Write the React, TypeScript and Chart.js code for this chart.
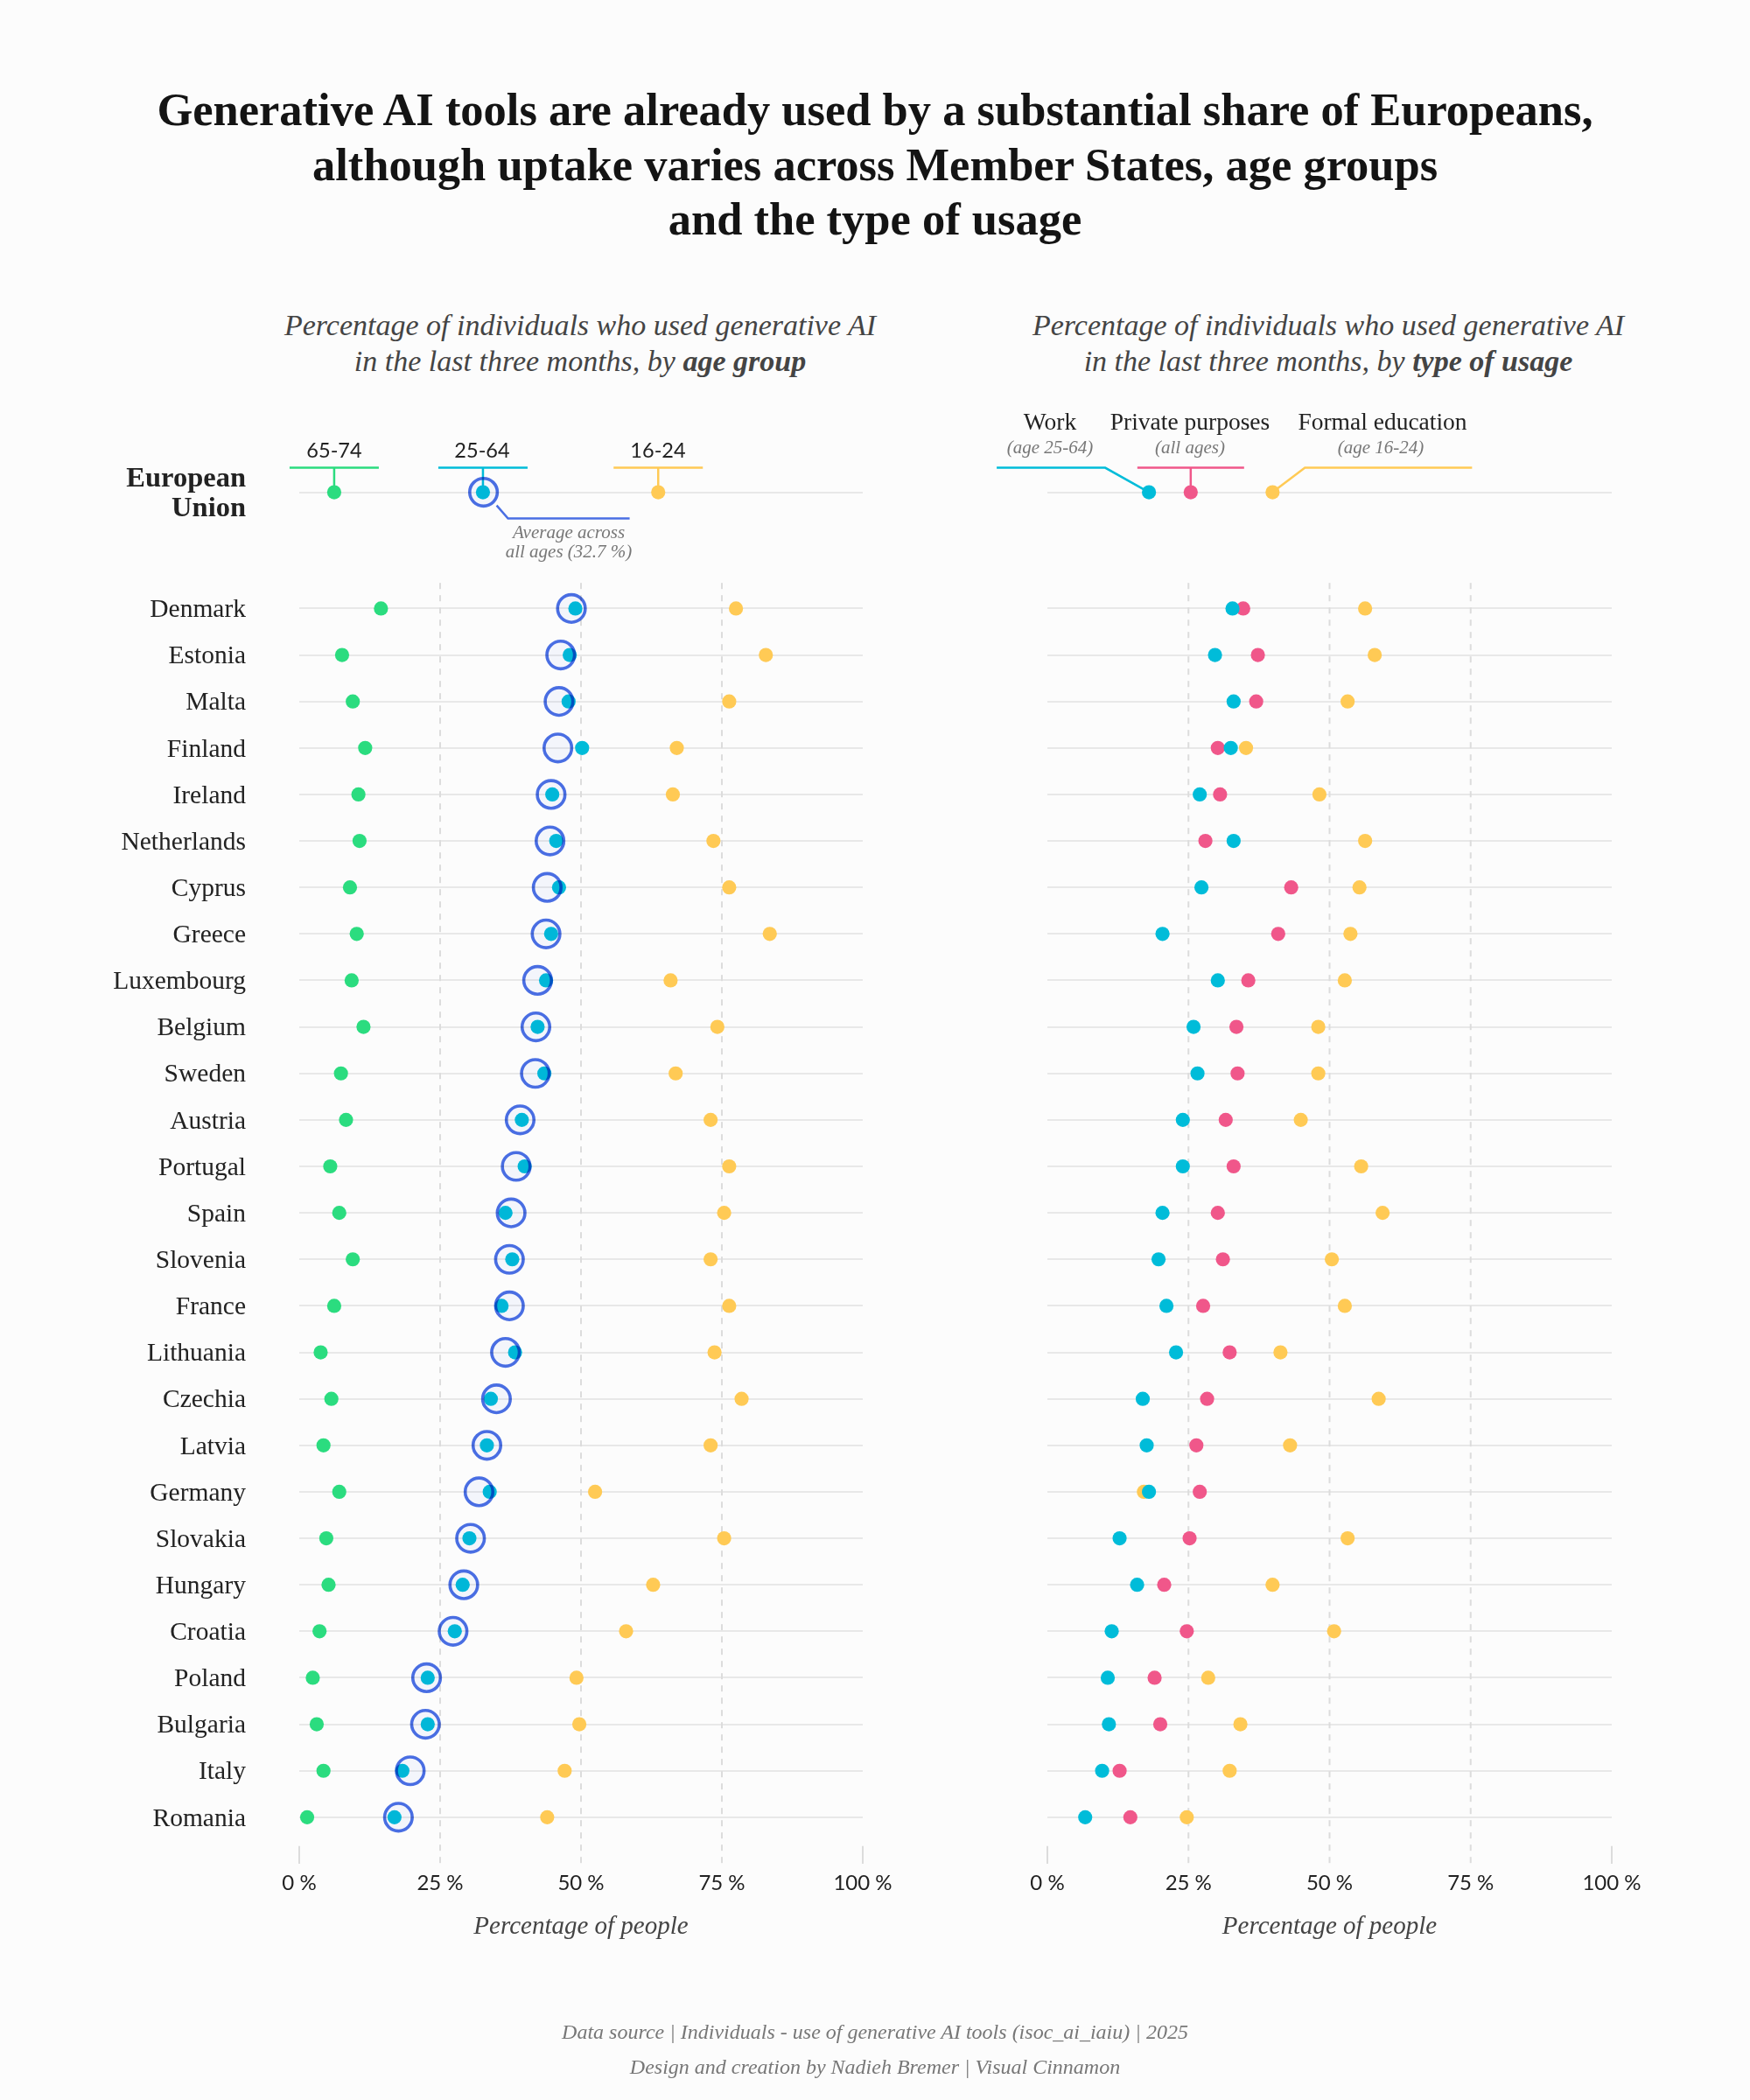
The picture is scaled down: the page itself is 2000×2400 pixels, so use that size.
import { useEffect, useRef } from 'react';
import { Chart, registerables } from 'chart.js';

Chart.register(...registerables);

// First entry of every list is the EU row
const rowLabels = ['European Union', 'Denmark', 'Estonia', 'Malta', 'Finland', 'Ireland', 'Netherlands', 'Cyprus', 'Greece', 'Luxembourg', 'Belgium', 'Sweden', 'Austria', 'Portugal', 'Spain', 'Slovenia', 'France', 'Lithuania', 'Czechia', 'Latvia', 'Germany', 'Slovakia', 'Hungary', 'Croatia', 'Poland', 'Bulgaria', 'Italy', 'Romania'];
const age6574 = [6.2, 14.5, 7.6, 9.5, 11.7, 10.5, 10.7, 9, 10.2, 9.3, 11.4, 7.4, 8.3, 5.5, 7.1, 9.5, 6.2, 3.8, 5.7, 4.3, 7.1, 4.8, 5.2, 3.6, 2.4, 3.1, 4.3, 1.4];
const age2564 = [32.6, 49, 48, 47.8, 50.2, 44.9, 45.6, 46.1, 44.7, 43.8, 42.3, 43.5, 39.5, 40, 36.6, 37.8, 35.9, 38.3, 34, 33.3, 33.8, 30.2, 29, 27.6, 22.8, 22.8, 18.3, 16.9];
const age1624 = [63.7, 77.5, 82.8, 76.3, 67, 66.3, 73.5, 76.3, 83.5, 65.9, 74.2, 66.8, 73, 76.3, 75.4, 73, 76.3, 73.7, 78.5, 73, 52.5, 75.4, 62.8, 58, 49.2, 49.7, 47.1, 44];
const allAges = [32.7, 48.3, 46.4, 46.1, 45.9, 44.7, 44.5, 44, 43.8, 42.3, 42, 41.9, 39.2, 38.5, 37.6, 37.3, 37.3, 36.6, 35, 33.3, 31.9, 30.4, 29.2, 27.3, 22.6, 22.4, 19.7, 17.6];
const useWork = [18, 32.8, 29.7, 33, 32.5, 27, 33, 27.3, 20.4, 30.2, 25.9, 26.6, 24, 24, 20.4, 19.7, 21.1, 22.8, 16.9, 17.6, 18, 12.8, 15.9, 11.4, 10.7, 10.9, 9.7, 6.7];
const usePrivate = [25.4, 34.7, 37.3, 37, 30.2, 30.6, 28, 43.2, 40.9, 35.6, 33.5, 33.7, 31.6, 33, 30.2, 31.1, 27.6, 32.3, 28.3, 26.4, 27, 25.2, 20.7, 24.7, 19, 20, 12.8, 14.7];
const useEducation = [39.9, 56.3, 58, 53.2, 35.2, 48.2, 56.3, 55.3, 53.7, 52.7, 48, 48, 44.9, 55.6, 59.4, 50.4, 52.7, 41.3, 58.7, 43, 17.1, 53.2, 39.9, 50.8, 28.5, 34.2, 32.3, 24.7];
const xTicks = [0, 25, 50, 75, 100];

const EU_ROW = -2.5;
const rowPositions = rowLabels.map((_, i) => (i === 0 ? EU_ROW : i - 1));

const GREEN = '#2bdc7f';
const TEAL = '#00bcd9';
const YELLOW = '#ffca55';
const PINK = '#f0578a';
const BLUE = '#4a6fe3';
const BG = '#fcfcfc';
const SERIF = '"Liberation Serif", serif';
const SANS = 'Lato, sans-serif';

const toPoints = (values: number[]) => values.map((v, i) => ({ x: v, y: rowPositions[i] }));

const dots = (label: string, values: number[], color: string) => ({
  label,
  data: toPoints(values),
  backgroundColor: color,
  borderWidth: 0,
  pointRadius: 8.1,
  clip: false as const,
});

function line(ctx: CanvasRenderingContext2D, color: string, pts: number[][]) {
  ctx.strokeStyle = color;
  ctx.lineWidth = 2.5;
  ctx.beginPath();
  pts.forEach(([x, y], i) => (i ? ctx.lineTo(x, y) : ctx.moveTo(x, y)));
  ctx.stroke();
}

function drawAgeLeaders(ctx: CanvasRenderingContext2D, px: (v: number) => number, y: number) {
  const bar = y - 28;
  [[age6574[0], GREEN], [age2564[0], TEAL], [age1624[0], YELLOW]].forEach(([v, color]) => {
    const x = px(v as number);
    line(ctx, color as string, [[x - 51, bar], [x + 51, bar]]);
    line(ctx, color as string, [[x, bar], [x, y]]);
  });
  const r = px(allAges[0]);
  line(ctx, BLUE, [[r + 15, y + 15], [r + 28, y + 30], [r + 167, y + 30]]);
}

function drawUsageLeaders(ctx: CanvasRenderingContext2D, px: (v: number) => number, y: number) {
  const bar = y - 28;
  const w = px(useWork[0]);
  line(ctx, TEAL, [[w - 174, bar], [w - 50, bar], [w, y]]);
  const p = px(usePrivate[0]);
  line(ctx, PINK, [[p - 61, bar], [p + 61, bar]]);
  line(ctx, PINK, [[p, bar], [p, y]]);
  const e = px(useEducation[0]);
  line(ctx, YELLOW, [[e, y], [e + 37, bar], [e + 228, bar]]);
}

type PanelProps = {
  left: number;
  width: number;
  axisWidth: number;
  paddingRight: number;
  showLabels: boolean;
  datasets: any[];
  leaders: (ctx: CanvasRenderingContext2D, px: (v: number) => number, y: number) => void;
};

function Panel({ left, width, axisWidth, paddingRight, showLabels, datasets, leaders }: PanelProps) {
  const canvasRef = useRef<HTMLCanvasElement>(null);

  useEffect(() => {
    if (!canvasRef.current) return;

    // dashed guides, axis end ticks and the leader lines of the EU row
    const decorations = {
      id: 'decorations',
      beforeDatasetsDraw(chart: any) {
        const { ctx, scales } = chart;
        const px = (v: number) => scales.x.getPixelForValue(v);
        const py = (v: number) => scales.y.getPixelForValue(v);
        ctx.save();
        ctx.lineWidth = 2;
        ctx.strokeStyle = '#dcdcdc';
        ctx.setLineDash([7, 7]);
        xTicks.slice(1, -1).forEach((v) => {
          ctx.beginPath();
          ctx.moveTo(px(v), py(-0.55));
          ctx.lineTo(px(v), py(27));
          ctx.stroke();
        });
        ctx.setLineDash([]);
        [xTicks[0], xTicks[xTicks.length - 1]].forEach((v) => {
          ctx.beginPath();
          ctx.moveTo(px(v), py(26.62));
          ctx.lineTo(px(v), py(27));
          ctx.stroke();
        });
        leaders(ctx, px, py(EU_ROW));
        ctx.restore();
      },
      // ring darkens the dot it overlaps
      beforeDatasetDraw(chart: any, args: any) {
        if (chart.data.datasets[args.index].label === 'All ages') {
          chart.ctx.save();
          chart.ctx.globalCompositeOperation = 'multiply';
        }
      },
      afterDatasetDraw(chart: any, args: any) {
        if (chart.data.datasets[args.index].label === 'All ages') chart.ctx.restore();
      },
    };

    const chart = new Chart(canvasRef.current, {
      type: 'scatter',
      data: { datasets },
      plugins: [decorations],
      options: {
        responsive: false,
        maintainAspectRatio: false,
        animation: false,
        layout: { padding: { top: 536, bottom: 170, right: paddingRight, left: 0 } },
        plugins: { legend: { display: false }, tooltip: { enabled: false } },
        scales: {
          x: {
            type: 'linear',
            min: 0,
            max: 100,
            afterBuildTicks: (scale: any) => {
              scale.ticks = xTicks.map((value) => ({ value }));
            },
            afterFit: (scale: any) => {
              scale.height = 100;
            },
            grid: { display: false },
            border: { display: false },
            ticks: {
              autoSkip: false,
              maxRotation: 0,
              padding: 0,
              color: '#222',
              font: { family: SANS, size: 24 },
              callback: (v: any) => `${v} %`,
            },
            title: {
              display: true,
              text: 'Percentage of people',
              color: '#444',
              padding: { top: 0, bottom: 10 },
              font: { family: SERIF, size: 29, style: 'italic' },
            },
          },
          y: {
            type: 'linear',
            reverse: true,
            min: -3,
            max: 27,
            afterBuildTicks: (scale: any) => {
              scale.ticks = rowPositions.map((value) => ({ value }));
            },
            afterFit: (scale: any) => {
              scale.width = axisWidth;
            },
            grid: { color: '#e8e8e8', lineWidth: 2, drawTicks: false },
            border: { display: false },
            ticks: {
              display: showLabels,
              autoSkip: false,
              padding: 61,
              labelOffset: 2,
              color: '#222',
              font: (ctx: any) =>
                ctx.tick && ctx.tick.value === EU_ROW
                  ? { family: SERIF, size: 32.5, weight: 'bold', lineHeight: 1.05 }
                  : { family: SERIF, size: 29.5 },
              callback: (v: any) => {
                const label = rowLabels[rowPositions.indexOf(v)];
                return v === EU_ROW ? label.split(' ') : label;
              },
            },
          },
        },
      },
    } as any);

    return () => {
      chart.destroy();
    };
  }, []);

  return (
    <canvas
      ref={canvasRef}
      width={width}
      height={2400}
      style={{ position: 'absolute', left, top: 0, width, height: 2400 }}
    />
  );
}

// chart.js paints the first dataset on top
const ageDatasets = [
  {
    label: 'All ages',
    data: toPoints(allAges),
    backgroundColor: 'rgba(74, 111, 227, 0.05)',
    borderColor: BLUE,
    borderWidth: 3.6,
    pointRadius: 15.8,
    clip: false,
  },
  dots('25-64', age2564, TEAL),
  dots('16-24', age1624, YELLOW),
  dots('65-74', age6574, GREEN),
];

const usageDatasets = [
  dots('Work', useWork, TEAL),
  dots('Private purposes', usePrivate, PINK),
  dots('Formal education', useEducation, YELLOW),
];

function Text({ x, y, style, children }: { x: number; y: number; style: React.CSSProperties; children: React.ReactNode }) {
  return (
    <div
      style={{
        position: 'absolute',
        left: x,
        top: y,
        transform: 'translate(-50%, -50%)',
        whiteSpace: 'nowrap',
        textAlign: 'center',
        ...style,
      }}
    >
      {children}
    </div>
  );
}

const titleStyle: React.CSSProperties = { fontFamily: SERIF, fontWeight: 700, fontSize: 52.5, color: '#141414' };
const subtitleStyle: React.CSSProperties = { fontFamily: SERIF, fontStyle: 'italic', fontSize: 34, color: '#444' };
const legendStyle: React.CSSProperties = { fontFamily: SANS, fontSize: 23.5, color: '#222' };
const legendSerif: React.CSSProperties = { fontFamily: SERIF, fontSize: 27.5, color: '#222' };
const noteStyle: React.CSSProperties = { fontFamily: SERIF, fontStyle: 'italic', fontSize: 21, color: '#777' };
const footerStyle: React.CSSProperties = { fontFamily: SERIF, fontStyle: 'italic', fontSize: 24, color: '#777' };

export default function App() {
  useEffect(() => {
    document.body.style.margin = '0';
    document.body.style.background = BG;
  }, []);

  return (
    <div style={{ position: 'relative', width: 2000, height: 2400, background: BG, overflow: 'hidden' }}>
      <Text x={1000} y={125} style={titleStyle}>Generative AI tools are already used by a substantial share of Europeans,</Text>
      <Text x={1000} y={188} style={titleStyle}>although uptake varies across Member States, age groups</Text>
      <Text x={1000} y={250} style={titleStyle}>and the type of usage</Text>

      <Text x={663} y={372} style={subtitleStyle}>Percentage of individuals who used generative AI</Text>
      <Text x={663} y={413} style={subtitleStyle}>in the last three months, by <b>age group</b></Text>
      <Text x={1518} y={372} style={subtitleStyle}>Percentage of individuals who used generative AI</Text>
      <Text x={1518} y={413} style={subtitleStyle}>in the last three months, by <b>type of usage</b></Text>

      <Panel left={0} width={1100} axisWidth={342} paddingRight={114} showLabels datasets={ageDatasets} leaders={drawAgeLeaders} />
      <Panel left={1000} width={1000} axisWidth={197} paddingRight={158} showLabels={false} datasets={usageDatasets} leaders={drawUsageLeaders} />

      <Text x={382} y={514} style={legendStyle}>65-74</Text>
      <Text x={551} y={514} style={legendStyle}>25-64</Text>
      <Text x={752} y={514} style={legendStyle}>16-24</Text>
      <Text x={650} y={608} style={noteStyle}>Average across</Text>
      <Text x={650} y={630} style={noteStyle}>all ages (32.7 %)</Text>

      <Text x={1200} y={482} style={legendSerif}>Work</Text>
      <Text x={1200} y={511} style={noteStyle}>(age 25-64)</Text>
      <Text x={1360} y={482} style={legendSerif}>Private purposes</Text>
      <Text x={1360} y={511} style={noteStyle}>(all ages)</Text>
      <Text x={1580} y={482} style={legendSerif}>Formal education</Text>
      <Text x={1578} y={511} style={noteStyle}>(age 16-24)</Text>

      <Text x={1000} y={2322} style={footerStyle}>Data source | Individuals - use of generative AI tools (isoc_ai_iaiu) | 2025</Text>
      <Text x={1000} y={2362} style={footerStyle}>Design and creation by Nadieh Bremer | Visual Cinnamon</Text>
    </div>
  );
}
